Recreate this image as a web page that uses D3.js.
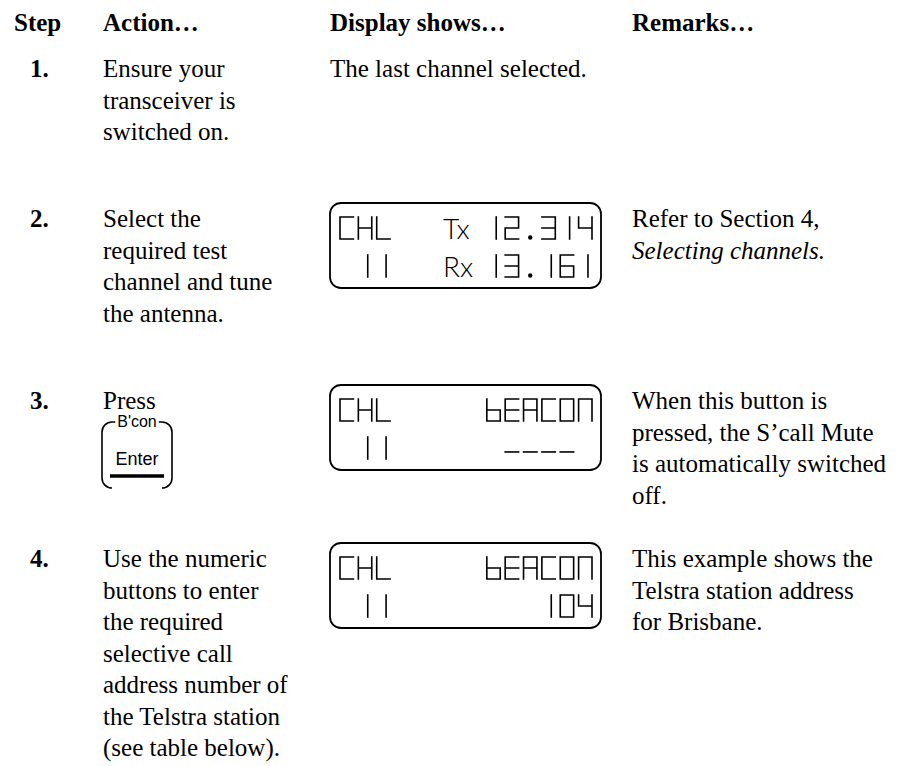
<!DOCTYPE html>
<html><head><meta charset="utf-8">
<script src="https://cdn.jsdelivr.net/npm/d3@7"></script>
<style>html,body{margin:0;padding:0;background:#fff}</style>
</head><body>
<svg id="c" width="904" height="766"></svg>
<script>
// ---------- data ----------
const headers = ["Step", "Action…", "Display shows…", "Remarks…"];
const stepLabels = ["1.", "2.", "3.", "4."];
const actionLines = [
  ["Ensure your", "transceiver is", "switched on."],
  ["Select the", "required test", "channel and tune", "the antenna."],
  ["Press"],
  ["Use the numeric", "buttons to enter", "the required", "selective call",
   "address number of", "the Telstra station", "(see table below)."]
];
const displayLines = [["The last channel selected."], [], [], []];
const remarkLines = [
  [],
  ["Refer to Section 4,", "Selecting channels."],
  ["When this button is", "pressed, the S\u2019call Mute", "is automatically switched", "off."],
  ["This example shows the", "Telstra station address", "for Brisbane."]
];
const italicRemarks = ["Selecting channels."];
const lcdLines = [
  [],
  ["CHL     12.314", " 11     13.161"],
  ["CHL     bEACON", " 11      ---- "],
  ["CHL     bEACON", " 11        104"]
];
const lcdIcons = [[], ["Tx", "Rx"], [], []];
const buttonCaption = "B'con";
const buttonLabel = "Enter";

// ---------- layout ----------
const svg = d3.select("#c");
const serif = "'Liberation Serif','Times New Roman',Times,serif";
const sans = "'Liberation Sans',Arial,Helvetica,sans-serif";
const colX = d3.scaleOrdinal().domain(headers).range([14, 103, 330, 632]);
const stepX = 30;
const headerY = 31;
const rowY = d3.scaleOrdinal().domain(stepLabels).range([77, 227, 409, 567]);
const lineH = 31.5;
const fontSize = 25;

svg.selectAll("text.hdr").data(headers).join("text")
  .attr("class", "hdr")
  .attr("x", d => colX(d)).attr("y", headerY)
  .attr("font-family", serif).attr("font-weight", "bold")
  .attr("font-size", fontSize).text(d => d);

stepLabels.forEach((s, i) => {
  const y0 = rowY(s);
  svg.append("text").attr("x", stepX).attr("y", y0)
    .attr("font-family", serif).attr("font-weight", "bold")
    .attr("font-size", fontSize).text(s);
  const block = (lines, x, italic) => {
    svg.append("g").selectAll("text").data(lines).join("text")
      .attr("x", x).attr("y", (d, k) => y0 + k * lineH)
      .attr("font-family", serif).attr("font-size", fontSize)
      .attr("font-style", d => (italic && italic.includes(d)) ? "italic" : null)
      .text(d => d);
  };
  block(actionLines[i], colX(headers[1]));
  block(displayLines[i], colX(headers[2]));
  block(remarkLines[i], colX(headers[3]), italicRemarks);
});

// ---------- LCD displays ----------
const lcdBox = {x: 330, w: 271, h: 85, rx: 11, dyTop: -24};
const rowTop = [14, 52];
const glyphH = 22;
const colScale = d3.scaleBand().domain(d3.range(14)).range([340, 592]).paddingInner(0.27).paddingOuter(0);
const gw = colScale.bandwidth();
const SEG = {
  a: [[0, 0], [1, 0]], b: [[1, 0], [1, .5]], c: [[1, .5], [1, 1]], d: [[0, 1], [1, 1]],
  e: [[0, .5], [0, 1]], f: [[0, 0], [0, .5]], g: [[0, .5], [1, .5]],
  m: [[0, .68], [1, .68]], i: [[.7, 0], [.7, 1]]
};
const GLYPH = {
  "C": "afed", "H": "fbecg", "L": "fed", "1": "i", "2": "abged", "3": "abgcd",
  "4": "fgbc", "6": "afgedc", "0": "abcdef", "b": "fegcd", "E": "afged",
  "A": "abcefg", "O": "abcdef", "N": "abcef", "-": "m"
};

stepLabels.forEach((s, i) => {
  if (!lcdLines[i].length) return;
  const top = rowY(s) + lcdBox.dyTop;
  const g = svg.append("g").attr("class", "lcd");
  g.append("rect").attr("x", lcdBox.x).attr("y", top)
    .attr("width", lcdBox.w).attr("height", lcdBox.h)
    .attr("rx", lcdBox.rx).attr("fill", "none")
    .attr("stroke", "#000").attr("stroke-width", 1.8);
  lcdLines[i].forEach((line, r) => {
    const ty = top + rowTop[r];
    const yS = d3.scaleLinear().domain([0, 1]).range([ty, ty + glyphH]);
    line.split("").forEach((ch, c) => {
      if (ch === " ") return;
      const x0 = colScale(c);
      const xS = d3.scaleLinear().domain([0, 1]).range([x0, x0 + gw]);
      if (ch === ".") {
        g.append("circle").attr("cx", xS(0.5)).attr("cy", yS(1) - 1.5)
          .attr("r", 2.2).attr("fill", "#000");
        return;
      }
      const p = d3.path();
      (GLYPH[ch] || "").split("").forEach(k => {
        const [p1, p2] = SEG[k];
        p.moveTo(xS(p1[0]), yS(p1[1]));
        p.lineTo(xS(p2[0]), yS(p2[1]));
      });
      g.append("path").attr("d", p.toString()).attr("fill", "none")
        .attr("stroke", "#000").attr("stroke-width", 1.6)
        .attr("stroke-linecap", "square");
    });
    g.append("text").attr("x", colScale(0)).attr("y", yS(1))
      .attr("font-family", sans).attr("font-size", 16)
      .attr("fill-opacity", 0)
      .text(line.trim());
    if (lcdIcons[i][r]) {
      g.append("text").attr("x", 443).attr("y", yS(1))
        .attr("font-family", "Lato, 'DejaVu Sans', sans-serif")
        .attr("font-weight", 300).attr("font-size", 28)
        .text(lcdIcons[i][r]);
    }
  });
});

// ---------- button ----------
{
  const y0 = rowY("3.");
  const bx0 = 102, bx1 = 172, bt = y0 + 13, bb = y0 + 79, r = 10;
  const cx = (bx0 + bx1) / 2;
  const g = svg.append("g").attr("class", "button");
  const cap = g.append("text").attr("x", cx).attr("y", bt + 5)
    .attr("text-anchor", "middle").attr("font-family", sans)
    .attr("font-size", 16).text(buttonCaption);
  const tw = cap.node().getComputedTextLength();
  const gapL = cx - tw / 2 - 2, gapR = cx + tw / 2 + 2;
  const p = d3.path();
  p.moveTo(gapL, bt); p.lineTo(bx0 + r, bt);
  p.arcTo(bx0, bt, bx0, bt + r, r);
  p.lineTo(bx0, bb - r);
  p.arcTo(bx0, bb, bx0 + r, bb, r);
  p.moveTo(gapR, bt); p.lineTo(bx1 - r, bt);
  p.arcTo(bx1, bt, bx1, bt + r, r);
  p.lineTo(bx1, bb - r);
  p.arcTo(bx1, bb, bx1 - r, bb, r);
  g.append("path").attr("d", p.toString()).attr("fill", "none")
    .attr("stroke", "#000").attr("stroke-width", 1.6);
  g.append("text").attr("x", cx).attr("y", y0 + 56)
    .attr("text-anchor", "middle").attr("font-family", sans)
    .attr("font-size", 18).text(buttonLabel);
  g.append("line").attr("x1", bx0 + 8).attr("x2", bx1 - 8)
    .attr("y1", y0 + 67).attr("y2", y0 + 67)
    .attr("stroke", "#000").attr("stroke-width", 3.5);
}
</script>
</body></html>
